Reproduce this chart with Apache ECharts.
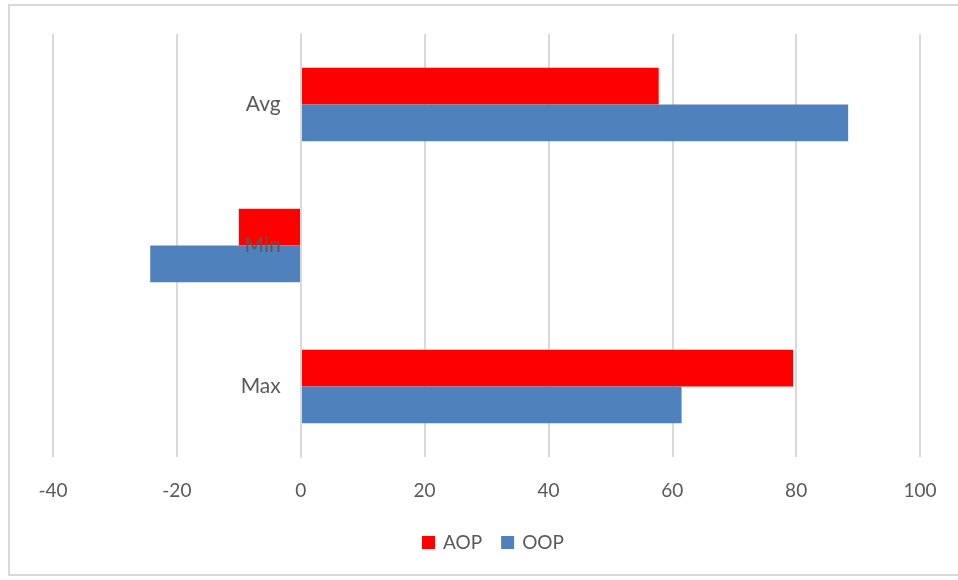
<!DOCTYPE html>
<html>
<head>
<meta charset="utf-8">
<script src="https://cdn.jsdelivr.net/npm/echarts@6/dist/echarts.min.js"></script>
<style>
  html, body { margin: 0; padding: 0; background: #fff; }
  #frame { position: absolute; left: 8px; top: 4px; width: 956px; height: 572px; border: 2px solid #d9d9d9; box-sizing: border-box; }
  #chart { position: absolute; left: 0; top: 0; width: 958px; height: 580px; }
</style>
</head>
<body>
<div id="frame"></div>
<div id="chart"></div>
<script>
// Categories listed bottom-to-top along the vertical axis
const categories = ['Max', 'Min', 'Avg'];
const seriesNames = ['AOP', 'OOP'];
const aopValues = [79.5, -10.0, 57.8];
const oopValues = [61.5, -24.3, 88.4];
const xTicks = { min: -40, max: 100, interval: 20 };

const fontFamily = 'Lato, "Open Sans", sans-serif';
const textColor = '#595959';
const gridColor = '#d9d9d9';

const gridLeft = 53;
const gridRight = 38;
const chartWidth = 958;

// Horizontal pixel distance from the plot's left edge to the value 0,
// used to seat the category axis on the zero line.
const plotWidth = chartWidth - gridLeft - gridRight;
const zeroShift = plotWidth * (0 - xTicks.min) / (xTicks.max - xTicks.min);

const chart = echarts.init(document.getElementById('chart'), null, { renderer: 'canvas' });

chart.setOption({
  animation: false,
  backgroundColor: 'transparent',
  grid: { left: gridLeft, right: gridRight, top: 34, bottom: 123, containLabel: false, outerBoundsMode: 'none' },
  legend: {
    data: seriesNames,
    bottom: 28,
    left: 422,
    padding: 0,
    itemWidth: 13,
    itemHeight: 13,
    itemGap: 19,
    icon: 'rect',
    textStyle: { fontFamily, fontSize: 19, color: textColor, padding: [0, 0, 0, 3] }
  },
  xAxis: {
    type: 'value',
    min: xTicks.min,
    max: xTicks.max,
    interval: xTicks.interval,
    axisLine: { show: false },
    axisTick: { show: false },
    splitLine: { show: true, lineStyle: { color: gridColor, width: 2 } },
    axisLabel: { fontFamily, fontSize: 19, color: textColor, margin: 24 }
  },
  yAxis: {
    type: 'category',
    data: categories,
    offset: -zeroShift,
    axisLine: { show: true, onZero: false, lineStyle: { color: gridColor, width: 2 } },
    axisTick: { show: false },
    axisLabel: { fontFamily, fontSize: 21, color: textColor, margin: 20 },
    z: 10
  },
  series: [
    {
      name: 'AOP',
      type: 'bar',
      data: aopValues,
      itemStyle: { color: '#ff0000' },
      barGap: '0%',
      barCategoryGap: '48%'
    },
    {
      name: 'OOP',
      type: 'bar',
      data: oopValues,
      itemStyle: { color: '#4f81bd' },
      barGap: '0%',
      barCategoryGap: '48%'
    }
  ]
});
</script>
</body>
</html>
